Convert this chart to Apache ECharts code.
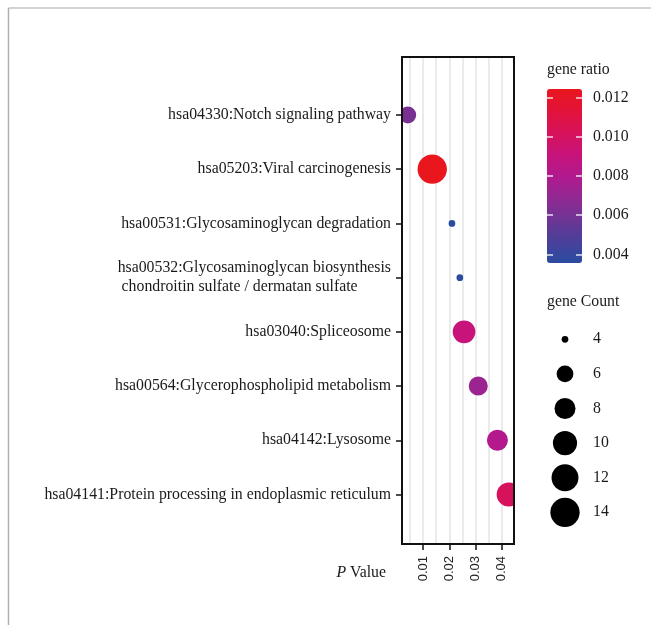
<!DOCTYPE html>
<html>
<head>
<meta charset="utf-8">
<script src="https://cdn.jsdelivr.net/npm/echarts@6/dist/echarts.min.js"></script>
<style>
  html, body { margin: 0; padding: 0; background: #fff; }
  #chart { width: 651px; height: 625px; }
</style>
</head>
<body>
<div id="chart"></div>
<script>
// KEGG enrichment bubble chart
const pathways = [
  'hsa04330:Notch signaling pathway',
  'hsa05203:Viral carcinogenesis',
  'hsa00531:Glycosaminoglycan degradation',
  'hsa00532:Glycosaminoglycan biosynthesis\n chondroitin sulfate / dermatan sulfate',
  'hsa03040:Spliceosome',
  'hsa00564:Glycerophospholipid metabolism',
  'hsa04142:Lysosome',
  'hsa04141:Protein processing in endoplasmic reticulum'
];
const pValues  = [0.0042, 0.0135, 0.0210, 0.0240, 0.0256, 0.0310, 0.0383, 0.0426];
const geneRatio = [0.0061, 0.01244, 0.00356, 0.0036, 0.0091, 0.0072, 0.0081, 0.0101];
const geneCount = [6, 14, 4, 4, 9, 7, 8, 10];

const pTicks = [0.01, 0.02, 0.03, 0.04];
const pGridLines = [0.005, 0.01, 0.015, 0.02, 0.025, 0.03, 0.035, 0.04];
const ratioTicks = [0.004, 0.006, 0.008, 0.010, 0.012];
const countBreaks = [4, 6, 8, 10, 12, 14];

const rampColors = ['#2a4ca0', '#4a409a', '#6e3594', '#922892', '#b1198e',
                    '#c8137a', '#d8125a', '#e2133a', '#e9161e'];

const SERIF = '"Liberation Serif", "Times New Roman", serif';
const SANS = '"Liberation Sans", Arial, sans-serif';
const TEXT = '#1a1a1a';

// area-proportional bubble size (diameter in px)
const cMin = Math.min(...geneCount), cMax = Math.max(...geneCount);
const D_MIN = 6.7, D_MAX = 29.3;
function bubbleSize(n) {
  const t = Math.max(0, (n - cMin) / (cMax - cMin));
  return D_MIN + (D_MAX - D_MIN) * Math.sqrt(t);
}

const rMin = Math.min(...geneRatio), rMax = Math.max(...geneRatio);

const chart = echarts.init(document.getElementById('chart'), null, { renderer: 'canvas' });

// legend titles and the size key
const legendGraphics = [
  { type: 'text', x: 547, y: 302, style: { text: 'gene Count', fill: TEXT, font: '15.8px ' + SERIF, verticalAlign: 'middle' } },
  { type: 'text', x: 547, y: 70, style: { text: 'gene ratio', fill: TEXT, font: '15.8px ' + SERIF, verticalAlign: 'middle' } }
];
countBreaks.forEach((n, i) => {
  const y = 339.3 + i * 34.6;
  legendGraphics.push({ type: 'circle', shape: { cx: 565, cy: y, r: bubbleSize(n) / 2 }, style: { fill: '#000' } });
  legendGraphics.push({ type: 'text', x: 593, y: y, style: { text: String(n), fill: TEXT, font: '15.8px ' + SERIF, verticalAlign: 'middle' } });
});
// figure border
legendGraphics.push({ type: 'line', shape: { x1: 8.5, y1: 8, x2: 651, y2: 8 }, style: { stroke: '#c4c4c4', lineWidth: 1.5 } });
legendGraphics.push({ type: 'line', shape: { x1: 8.5, y1: 8, x2: 8.5, y2: 625 }, style: { stroke: '#b0b0b0', lineWidth: 1.5 } });

const option = {
  animation: false,
  backgroundColor: '#ffffff',
  grid: [
    { left: 402, top: 57, width: 112, height: 487, show: true, borderColor: '#111', borderWidth: 2, backgroundColor: 'transparent', z: 10 },
    { left: 547, top: 89, width: 35, height: 174, show: false }
  ],
  xAxis: [
    {
      type: 'value', gridIndex: 0, min: 0.002, max: 0.0446,
      position: 'bottom',
      name: '{i|P}{t| Value}',
      nameLocation: 'start',
      nameGap: 16,
      nameTextStyle: {
        color: TEXT, fontFamily: SERIF, fontSize: 15.8, padding: [58, 0, 0, 0],
        rich: {
          i: { fontStyle: 'italic', fontFamily: SERIF, fontSize: 15.8, color: TEXT },
          t: { fontFamily: SERIF, fontSize: 15.8, color: TEXT }
        }
      },
      axisLine: { show: false, onZero: false },
      axisTick: { show: true, length: 6, customValues: pTicks, lineStyle: { color: '#111', width: 1.5 } },
      axisLabel: {
        show: true, customValues: pTicks, rotate: 90, margin: 12,
        fontFamily: SANS, fontSize: 13, color: '#222',
        formatter: v => v.toFixed(2)
      },
      splitLine: { show: false }
    },
    {
      type: 'value', gridIndex: 0, min: 0.002, max: 0.0446,
      position: 'top', splitNumber: 9,
      axisLine: { show: false, onZero: false },
      axisTick: { show: false, customValues: pGridLines },
      axisLabel: { show: false },
      splitLine: { show: true, lineStyle: { color: '#e4e4e4', width: 1.5 } }
    },
    {
      type: 'value', gridIndex: 1, show: false, min: 0, max: 1,
      axisLine: { onZero: false }
    }
  ],
  yAxis: [
    {
      type: 'value', gridIndex: 0, min: -0.07, max: 8.913, inverse: true,
      axisLine: { show: false, onZero: false },
      axisTick: { show: true, length: 6, customValues: [1, 2, 3, 4, 5, 6, 7, 8], lineStyle: { color: '#111', width: 1.5 } },
      axisLabel: {
        show: true, customValues: [1, 2, 3, 4, 5, 6, 7, 8], margin: 11,
        formatter: v => {
          const name = pathways[Math.round(v) - 1] || '';
          return name.split('\n').map(s => '{a|' + s + '}').join('\n');
        },
        rich: { a: { fontFamily: SERIF, fontSize: 15.8, color: TEXT, lineHeight: 19, align: 'left' } }
      },
      splitLine: { show: false }
    },
    {
      type: 'value', gridIndex: 1, min: rMin, max: rMax, position: 'right', z: 10,
      axisLine: { show: false, onZero: false },
      axisTick: { show: true, inside: true, length: 6, customValues: ratioTicks, lineStyle: { color: 'rgba(255,255,255,0.85)', width: 1.5 } },
      axisLabel: {
        show: true, customValues: ratioTicks, margin: 11,
        fontFamily: SERIF, fontSize: 15.8, color: TEXT,
        formatter: v => v.toFixed(3)
      },
      splitLine: { show: false }
    },
    {
      type: 'value', gridIndex: 1, min: rMin, max: rMax, position: 'left', z: 10,
      axisLine: { show: false, onZero: false },
      axisTick: { show: true, inside: true, length: 6, customValues: ratioTicks, lineStyle: { color: 'rgba(255,255,255,0.85)', width: 1.5 } },
      axisLabel: { show: false },
      splitLine: { show: false }
    }
  ],
  visualMap: [{
    type: 'continuous',
    seriesIndex: 0,
    dimension: 2,
    min: rMin, max: rMax,
    show: true,
    calculable: false,
    hoverLink: false,
    orient: 'vertical',
    left: 547, top: 89,
    itemWidth: 35, itemHeight: 174,
    padding: 0,
    text: null,
    inRange: { color: rampColors }
  }],
  graphic: legendGraphics,
  series: [{
    type: 'custom',
    coordinateSystem: 'cartesian2d',
    xAxisIndex: 0, yAxisIndex: 0,
    clip: true,
    z: 2,
    encode: { x: 0, y: 1 },
    data: pathways.map((_, i) => [pValues[i], i + 1, geneRatio[i], geneCount[i]]),
    renderItem: (params, api) => {
      const c = api.coord([api.value(0), api.value(1)]);
      return {
        type: 'circle',
        shape: { cx: c[0], cy: c[1], r: bubbleSize(api.value(3)) / 2 },
        style: { fill: api.visual('color') }
      };
    }
  }]
};

chart.setOption(option);
</script>
</body>
</html>
